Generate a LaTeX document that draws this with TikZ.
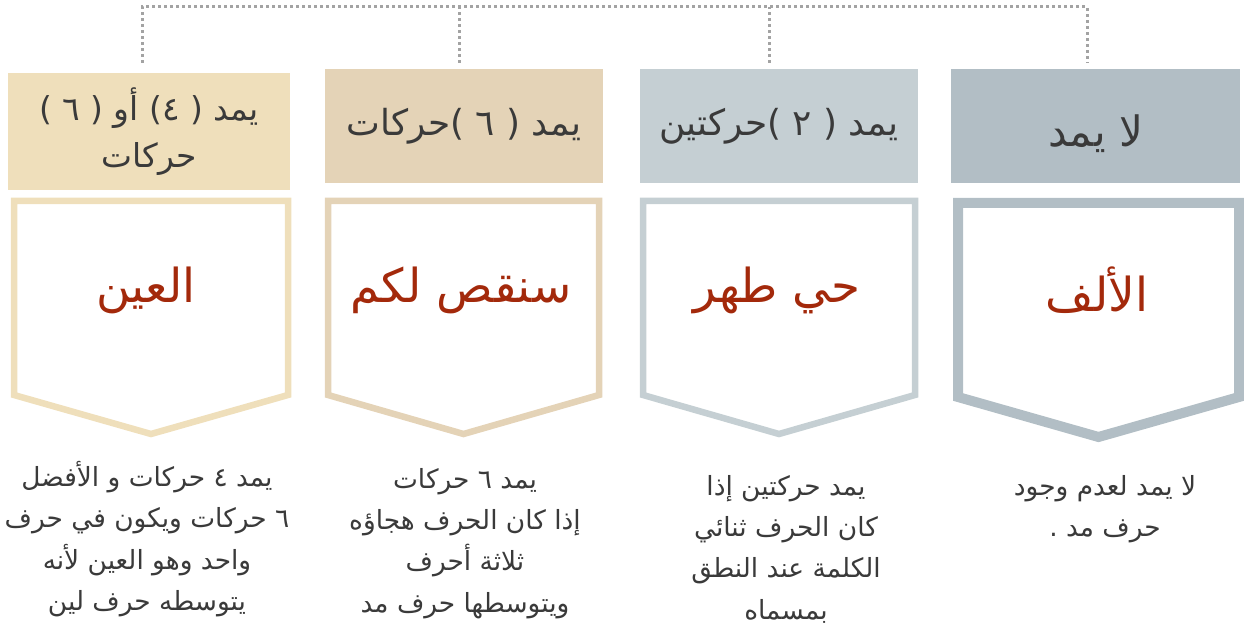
\documentclass[tikz,border=0pt]{standalone}
\usepackage{fontspec}
\newfontfamily\arabicfont[Script=Arabic]{DejaVu Sans}
\TeXXeTstate=1
\definecolor{tanA}{HTML}{EFDFBB}
\definecolor{tanB}{HTML}{E4D3B7}
\definecolor{greyA}{HTML}{C5CFD3}
\definecolor{greyB}{HTML}{B2BEC5}
\definecolor{dotgrey}{HTML}{A3A3A3}
\definecolor{rust}{HTML}{A3290B}
\definecolor{ink}{HTML}{3A3A3A}
\newcommand{\ar}[1]{\beginR #1\endR}
\begin{document}
\begin{tikzpicture}
      [x = 1bp, y = -1bp,
       head/.style = {fill = #1, inner sep = 0, text = ink, align = center,
         font = \arabicfont\fontsize{36}{47}\selectfont},
       key/.style = {text = rust, font = \arabicfont\fontsize{47}{50}\selectfont},
       note/.style = {anchor = north, inner sep = 0, text = ink, align = center,
         font = \arabicfont\fontsize{26.5}{41.5}\selectfont},
       dotline/.style = {draw = dotgrey, line width = 3bp, dash pattern = on 3bp off 3bp}]
      \useasboundingbox (0,0) rectangle (1244,636);
      \node[head = tanA, minimum width = 282bp, minimum height = 117bp,
        font = \arabicfont\fontsize{33}{47}\selectfont] (h1) at (149,131.5)
        {\ar{يمد ( ٤) أو ( ٦ )}\\\ar{حركات}};
      \node[head = tanB, minimum width = 278bp, minimum height = 114bp] (h2) at (464,126)
        {\ar{يمد ( ٦ )\kern0pt حركات}};
      \node[head = greyA, minimum width = 278bp, minimum height = 114bp] (h3) at (779,126)
        {\ar{يمد ( ٢ )\kern0pt حركتين}};
      \node[head = greyB, minimum width = 289bp, minimum height = 114bp,
        font = \arabicfont\fontsize{42}{47}\selectfont, text height = 48bp, text depth = 6bp]
        (h4) at (1095.5,126) {\ar{لا يمد}};
      \foreach \x [count = \i] in {142, 459, 769, 1087}
        \coordinate (d\i) at (\x, 63);
      \draw[dotline] (d1) |- (d4 |- 0,7) -- (d4);
      \foreach \i in {2, 3}
        \draw[dotline] (d\i) -- (d\i |- 0,7);
      \foreach \l/\r/\t/\s/\p/\c/\w in {14/288/201/395/434/tanA/6.5bp,
          328/599/201/395/434/tanB/6.5bp, 643/915/201/395/434/greyA/6.5bp,
          958/1239/203/397/437/greyB/10bp}
        \draw[draw = \c, line width = \w, line join = miter]
          (\l,\t) -- (\r,\t) -- (\r,\s) -- ({(\l+\r)/2},\p) -- (\l,\s) -- cycle;
      \foreach \x/\word [count = \i] in {146/العين, 461/سنقص لكم, 777/حي طهر, 1097/الألف}
        \node[key] (k\i) at (\x, 290) {\ar{\word}};
      \node[note] (n1) at (147,461) {\ar{يمد ٤ حركات و الأفضل}\\\ar{٦ حركات ويكون في حرف}\\
        \ar{واحد وهو العين لأنه}\\\ar{يتوسطه حرف لين}};
      \node[note] (n2) at (465,468) {\ar{يمد ٦ حركات}\\\ar{إذا كان الحرف هجاؤه}\\
        \ar{ثلاثة أحرف}\\\ar{ويتوسطها حرف مد}};
      \node[note] (n3) at (786,475) {\ar{يمد حركتين إذا}\\\ar{كان الحرف ثنائي}\\
        \ar{الكلمة عند النطق}\\\ar{بمسماه}};
      \node[note] (n4) at (1105,475) {\ar{لا يمد لعدم وجود}\\\ar{حرف مد .}};
    \end{tikzpicture}
\end{document}
